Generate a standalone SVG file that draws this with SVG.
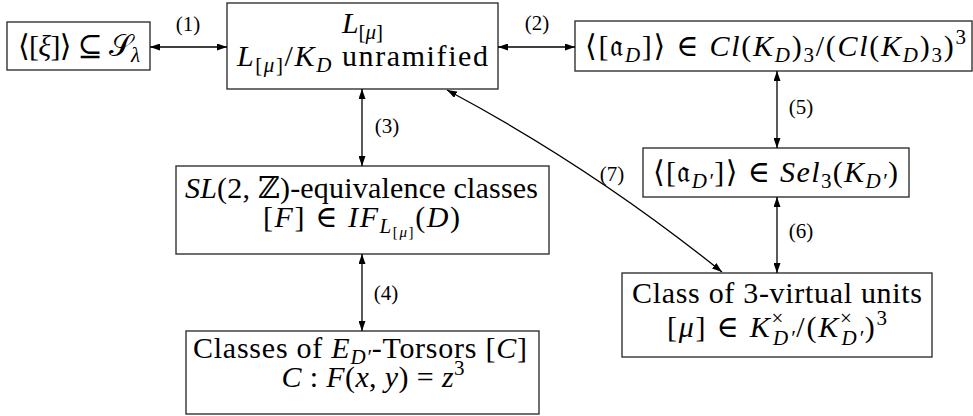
<svg xmlns="http://www.w3.org/2000/svg" width="973" height="416" viewBox="0 0 973 416">
<defs>
<marker id="ah" viewBox="0 0 10 7" refX="10" refY="3.5" markerWidth="10" markerHeight="7" markerUnits="userSpaceOnUse" orient="auto-start-reverse"><path d="M0,0 L10,3.5 L0,7 z" fill="#000"/></marker>
</defs>
<style>
.box{fill:#fff;stroke:#333;stroke-width:1.4}
.t{font-family:"Liberation Serif","DejaVu Serif",serif;font-size:30px;fill:#000;text-anchor:middle}
.i{font-style:italic}
.s{font-size:21px}
.ss{font-size:15px}
.lbl{font-family:"Liberation Serif","DejaVu Serif",serif;font-size:21px;fill:#000;text-anchor:middle}
.c{fill:none;stroke:#000;stroke-width:1.3;marker-start:url(#ah);marker-end:url(#ah)}
</style>
<rect width="973" height="416" fill="#fff"/>
<g id="nodeA">
<rect class="box" x="7" y="22" width="143" height="48"/>
<text class="t" x="79" y="56" textLength="122" lengthAdjust="spacing">⟨[<tspan class="i">ξ</tspan>]⟩ ⊆ 𝒮<tspan class="s i" dy="6">λ</tspan></text>
</g>
<g id="nodeB">
<rect class="box" x="227" y="3" width="271" height="86"/>
<text class="t" x="362.5" y="33"><tspan class="i">L</tspan><tspan class="s" dy="6">[<tspan class="i">μ</tspan>]</tspan></text>
<text class="t" x="362.5" y="66" textLength="251" lengthAdjust="spacing"><tspan class="i">L</tspan><tspan class="s" dy="6">[<tspan class="i">μ</tspan>]</tspan><tspan dy="-6">/</tspan><tspan class="i">K</tspan><tspan class="s i" dy="6">D</tspan><tspan dy="-6"> unramified</tspan></text>
</g>
<g id="nodeC">
<rect class="box" x="575" y="21" width="397" height="50"/>
<text class="t" x="775.5" y="56" textLength="381" lengthAdjust="spacing">⟨[𝔞<tspan class="s i" dy="6">D</tspan><tspan dy="-6">]⟩ ∈ </tspan><tspan class="i">Cl</tspan>(<tspan class="i">K</tspan><tspan class="s i" dy="6">D</tspan><tspan dy="-6">)</tspan><tspan class="s" dy="6">3</tspan><tspan dy="-6">/(</tspan><tspan class="i">Cl</tspan>(<tspan class="i">K</tspan><tspan class="s i" dy="6">D</tspan><tspan dy="-6">)</tspan><tspan class="s" dy="6">3</tspan><tspan dy="-6">)</tspan><tspan class="s" dy="-12">3</tspan></text>
</g>
<g id="nodeD">
<rect class="box" x="176" y="166" width="373" height="88"/>
<text class="t" x="361.5" y="198" textLength="353" lengthAdjust="spacing"><tspan class="i">SL</tspan>(2, ℤ)-equivalence classes</text>
<text class="t" x="361.5" y="227" textLength="197" lengthAdjust="spacing">[<tspan class="i">F</tspan>] ∈ <tspan class="i">IF</tspan><tspan class="s i" dy="6">L</tspan><tspan class="ss" dy="4">[<tspan class="i">μ</tspan>]</tspan><tspan dy="-10">(</tspan><tspan class="i">D</tspan>)</text>
</g>
<g id="nodeE">
<rect class="box" x="186" y="331" width="353" height="83"/>
<text class="t" x="360" y="358" textLength="334" lengthAdjust="spacing">Classes of <tspan class="i">E</tspan><tspan class="s i" dy="6">D′</tspan><tspan dy="-6">-Torsors [</tspan><tspan class="i">C</tspan>]</text>
<text class="t" x="373" y="387" textLength="183" lengthAdjust="spacing"><tspan class="i">C</tspan> : <tspan class="i">F</tspan>(<tspan class="i">x</tspan>, <tspan class="i">y</tspan>) = <tspan class="i">z</tspan><tspan class="s" dy="-12">3</tspan></text>
</g>
<g id="nodeF">
<rect class="box" x="643" y="148" width="266" height="49"/>
<text class="t" x="775.5" y="182" textLength="245" lengthAdjust="spacing">⟨[𝔞<tspan class="s i" dy="6">D′</tspan><tspan dy="-6">]⟩ ∈ </tspan><tspan class="i">Sel</tspan><tspan class="s" dy="6">3</tspan><tspan dy="-6">(</tspan><tspan class="i">K</tspan><tspan class="s i" dy="6">D′</tspan><tspan dy="-6">)</tspan></text>
</g>
<g id="nodeG">
<rect class="box" x="622" y="273" width="310" height="84"/>
<text class="t" x="777" y="303" textLength="290" lengthAdjust="spacing">Class of 3-virtual units</text>
<text class="t" x="777" y="337" textLength="220" lengthAdjust="spacing">[<tspan class="i">μ</tspan>] ∈ <tspan class="i">K</tspan><tspan class="s" dy="-12">×</tspan><tspan class="s i" dx="-12" dy="20">D′</tspan><tspan dy="-8">/(</tspan><tspan class="i">K</tspan><tspan class="s" dy="-12">×</tspan><tspan class="s i" dx="-12" dy="20">D′</tspan><tspan dy="-8">)</tspan><tspan class="s" dy="-12">3</tspan></text>
</g>
<g id="connectors">
<path class="c" d="M150,47 H227"/>
<path class="c" d="M498,47 H575"/>
<path class="c" d="M362,89 V166"/>
<path class="c" d="M362,254 V331"/>
<path class="c" d="M777,71 V148"/>
<path class="c" d="M777,197 V273"/>
<path class="c" d="M447,90 Q593,168 722,272"/>
<text class="lbl" x="188" y="31">(1)</text>
<text class="lbl" x="537" y="30">(2)</text>
<text class="lbl" x="387" y="133">(3)</text>
<text class="lbl" x="386" y="300">(4)</text>
<text class="lbl" x="801" y="114">(5)</text>
<text class="lbl" x="801" y="238">(6)</text>
<text class="lbl" x="612" y="181">(7)</text>
</g>
</svg>
